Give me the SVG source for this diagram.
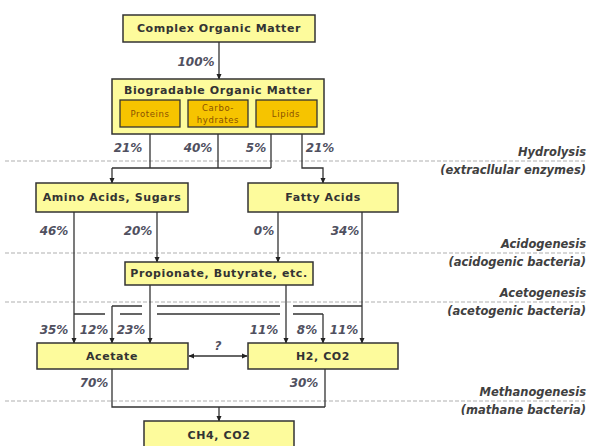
<svg xmlns="http://www.w3.org/2000/svg" width="590" height="446" viewBox="0 0 590 446">
<defs>
<style>
.box{fill:#fdfb9c;stroke:#333;stroke-width:1.5}
.ibox{fill:#f6c400;stroke:#333;stroke-width:1.3}
.bt{font-family:"DejaVu Sans",Verdana,sans-serif;font-weight:bold;font-size:11px;letter-spacing:0.6px;fill:#333;text-anchor:middle}
.it{font-family:"DejaVu Sans",Verdana,sans-serif;font-size:8.5px;letter-spacing:0.6px;fill:#8a5200;text-anchor:middle}
.pc{font-family:"DejaVu Sans",Verdana,sans-serif;font-style:italic;font-weight:bold;font-size:12px;fill:#505060;text-anchor:middle}
.st{font-family:"DejaVu Sans",Verdana,sans-serif;font-style:italic;font-weight:bold;font-size:11.5px;fill:#404040;text-anchor:end}
.dash{stroke:#b0b0b0;stroke-width:1.2;stroke-dasharray:4 2;fill:none}
.ln{stroke:#333;stroke-width:1.3;fill:none}
.ar{stroke:#333;stroke-width:1.3;fill:none;marker-end:url(#ah)}
</style>
<marker id="ah" viewBox="0 0 8 8" refX="7" refY="4" markerWidth="6" markerHeight="6" markerUnits="userSpaceOnUse" orient="auto">
<path d="M0,0.5 L8,4 L0,7.5 z" fill="#222"/>
</marker>
<marker id="ahs" viewBox="0 0 8 8" refX="1" refY="4" markerWidth="6" markerHeight="6" markerUnits="userSpaceOnUse" orient="auto">
<path d="M8,0.5 L0,4 L8,7.5 z" fill="#222"/>
</marker>
</defs>
<rect width="590" height="446" fill="#fff"/>

<g id="stages">
<line class="dash" x1="5" y1="161" x2="587" y2="161"/>
<text class="st" x="586" y="156">Hydrolysis</text>
<text class="st" x="586" y="174">(extracllular enzymes)</text>
<line class="dash" x1="5" y1="253" x2="587" y2="253"/>
<text class="st" x="586" y="248">Acidogenesis</text>
<text class="st" x="586" y="266">(acidogenic bacteria)</text>
<line class="dash" x1="5" y1="302" x2="587" y2="302"/>
<text class="st" x="586" y="297">Acetogenesis</text>
<text class="st" x="586" y="315">(acetogenic bacteria)</text>
<line class="dash" x1="5" y1="401" x2="587" y2="401"/>
<text class="st" x="586" y="396">Methanogenesis</text>
<text class="st" x="586" y="414">(mathane bacteria)</text>
</g>

<g id="connectors">
<path class="ar" d="M219,42 V79"/>
<path class="ln" d="M150,127 V168 M218,127 V168 M271,127 V168 M271,168 H112"/>
<path class="ar" d="M112,168 V183"/>
<path class="ar" d="M302,127 V168 H323 V183"/>
<path class="ar" d="M74,212 V343"/>
<path class="ar" d="M157,212 V262"/>
<path class="ar" d="M278,212 V262"/>
<path class="ar" d="M362,212 V343"/>
<path class="ar" d="M150,285 V343"/>
<path class="ar" d="M286,285 V343"/>
<path class="ln" d="M362,306 H293 M280,306 H157 M142,306 H112"/>
<path class="ar" d="M112,306 V343"/>
<path class="ln" d="M74,314 H105 M120,314 H142 M157,314 H280 M293,314 H323"/>
<path class="ar" d="M323,314 V343"/>
<path d="M189,356 H247" stroke="#333" stroke-width="1.3" fill="none" marker-start="url(#ahs)" marker-end="url(#ah)"/>
<path class="ln" d="M112,369 V407 H325 M325,369 V407"/>
<path class="ar" d="M219,407 V421"/>
</g>

<g id="labels">
<text class="pc" x="196" y="66">100%</text>
<text class="pc" x="128" y="152">21%</text>
<text class="pc" x="198" y="152">40%</text>
<text class="pc" x="256" y="152">5%</text>
<text class="pc" x="320" y="152">21%</text>
<text class="pc" x="54" y="235">46%</text>
<text class="pc" x="138" y="235">20%</text>
<text class="pc" x="264" y="235">0%</text>
<text class="pc" x="345" y="235">34%</text>
<text class="pc" x="54" y="334">35%</text>
<text class="pc" x="94" y="334">12%</text>
<text class="pc" x="131" y="334">23%</text>
<text class="pc" x="264" y="334">11%</text>
<text class="pc" x="307" y="334">8%</text>
<text class="pc" x="344" y="334">11%</text>
<text class="pc" x="218" y="350">?</text>
<text class="pc" x="94" y="387">70%</text>
<text class="pc" x="304" y="387">30%</text>
</g>

<g id="complex">
<rect class="box" x="123" y="15" width="192" height="27"/>
<text class="bt" x="219" y="32">Complex Organic Matter</text>
</g>
<g id="biogradable">
<rect class="box" x="112" y="79" width="212" height="55"/>
<text class="bt" x="218" y="94">Biogradable Organic Matter</text>
<g id="proteins">
<rect class="ibox" x="120" y="100" width="60" height="27"/>
<text class="it" x="150" y="117">Proteins</text>
</g>
<g id="carbohydrates">
<rect class="ibox" x="188" y="100" width="60" height="27"/>
<text class="it" x="218" y="111">Carbo-</text>
<text class="it" x="218" y="123">hydrates</text>
</g>
<g id="lipids">
<rect class="ibox" x="256" y="100" width="61" height="27"/>
<text class="it" x="286" y="117">Lipids</text>
</g>
</g>
<g id="amino">
<rect class="box" x="36" y="183" width="152" height="29"/>
<text class="bt" x="112" y="201">Amino Acids, Sugars</text>
</g>
<g id="fatty">
<rect class="box" x="248" y="183" width="150" height="29"/>
<text class="bt" x="323" y="201">Fatty Acids</text>
</g>
<g id="propionate">
<rect class="box" x="125" y="262" width="188" height="23"/>
<text class="bt" x="219" y="277">Propionate, Butyrate, etc.</text>
</g>
<g id="acetate">
<rect class="box" x="37" y="343" width="151" height="26"/>
<text class="bt" x="112" y="360">Acetate</text>
</g>
<g id="h2co2">
<rect class="box" x="248" y="343" width="150" height="26"/>
<text class="bt" x="323" y="360">H2, CO2</text>
</g>
<g id="ch4co2">
<rect class="box" x="144" y="421" width="150" height="30"/>
<text class="bt" x="219" y="439">CH4, CO2</text>
</g>
</svg>
